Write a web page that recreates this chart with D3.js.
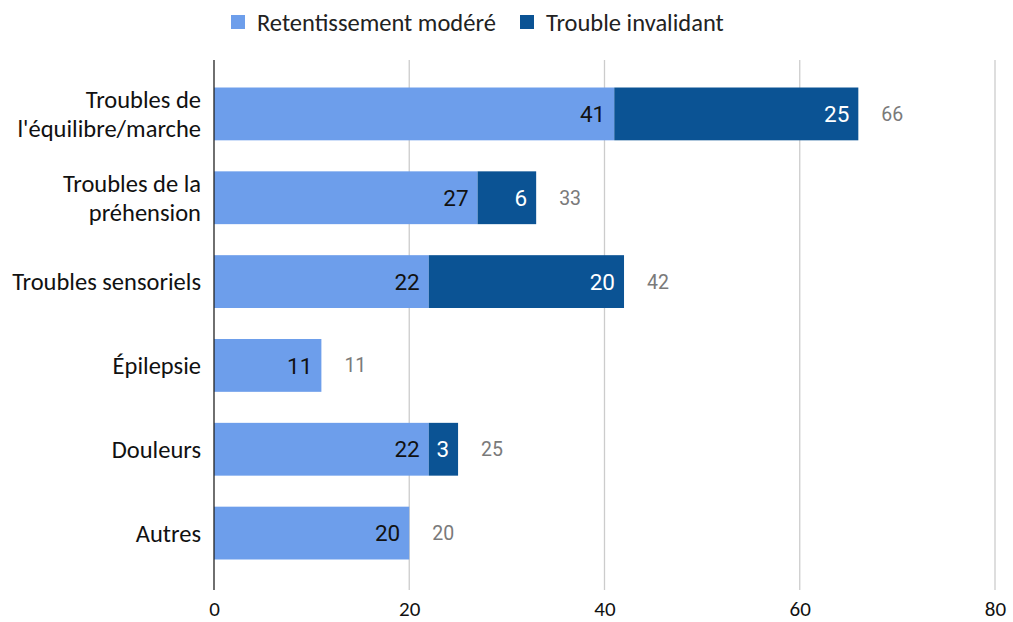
<!DOCTYPE html>
<html><head><meta charset="utf-8">
<script src="https://cdn.jsdelivr.net/npm/d3@7"></script>
<style>body{margin:0;background:#fff}</style>
</head><body>
<svg id="c" width="1013" height="622"></svg>
<script>
const categories = [["Troubles de","l'équilibre/marche"],["Troubles de la","préhension"],["Troubles sensoriels"],["Épilepsie"],["Douleurs"],["Autres"]];
const moderate = [41,27,22,11,22,20];
const invalidant = [25,6,20,0,3,0];
const seriesNames = ["Retentissement modéré","Trouble invalidant"];
const tickValues = [0,20,40,60,80];
const colors = ["#6d9eeb","#0b5394"];

const svg = d3.select("#c");
const labFont = "Carlito, Lato, 'Open Sans', sans-serif";
const x = d3.scaleLinear().domain([0,80]).range([214,995]);
const y = d3.scaleBand().domain(d3.range(categories.length)).range([72,575]).paddingInner(0.37).paddingOuter(0.185);

// grid
svg.append("g").selectAll("line").data(tickValues.slice(1)).join("line")
  .attr("x1",d=>x(d)).attr("x2",d=>x(d)).attr("y1",60).attr("y2",590)
  .attr("stroke","#cccccc").attr("stroke-width",1.3);

const data = categories.map((c,i)=>({i, a:moderate[i], b:invalidant[i]}));
const g = svg.append("g");
data.forEach(d=>{
  const yy = y(d.i), h = y.bandwidth();
  g.append("rect").attr("x",x(0)).attr("y",yy).attr("width",x(d.a)-x(0)).attr("height",h).attr("fill",colors[0]);
  if(d.b>0) g.append("rect").attr("x",x(d.a)).attr("y",yy).attr("width",x(d.a+d.b)-x(d.a)).attr("height",h).attr("fill",colors[1]);
  const cy = yy+h/2;
  g.append("text").attr("x",x(d.a)-9).attr("y",cy).attr("dy","0.36em").attr("text-anchor","end")
    .attr("font-family","Roboto, sans-serif").attr("font-size",22.5).attr("fill","#111").text(d.a);
  if(d.b>0) g.append("text").attr("x",x(d.a+d.b)-9).attr("y",cy).attr("dy","0.36em").attr("text-anchor","end")
    .attr("font-family","Roboto, sans-serif").attr("font-size",22.5).attr("fill","#fff").text(d.b);
  g.append("text").attr("x",x(d.a+d.b)+23).attr("y",cy).attr("dy","0.36em").attr("text-anchor","start")
    .attr("font-family","Roboto, sans-serif").attr("font-size",19.5).attr("fill","#7a7a7a").text(d.a+d.b);
  const lines = categories[d.i];
  const t = svg.append("text").attr("text-anchor","end").attr("font-family",labFont).attr("font-size",24.5).attr("fill","#111");
  lines.forEach((l,k)=>{
    t.append("tspan").attr("x",201).attr("y",cy+(k-(lines.length-1)/2)*29).attr("dy","0.36em").text(l);
  });
});

// axis line
svg.append("line").attr("x1",x(0)).attr("x2",x(0)).attr("y1",60).attr("y2",590).attr("stroke","#222").attr("stroke-width",1.3);

// x axis
const ax = svg.append("g").attr("transform","translate(0,590)").call(d3.axisBottom(x).tickValues(tickValues).tickSize(0).tickPadding(11));
ax.select(".domain").remove();
ax.selectAll("text").attr("font-family",labFont).attr("font-size",21).attr("fill","#111");

// legend
const leg = [{x:231,tx:257},{x:520,tx:546}];
seriesNames.forEach((n,i)=>{
  svg.append("rect").attr("x",leg[i].x).attr("y",15).attr("width",14).attr("height",14).attr("fill",colors[i]);
  svg.append("text").attr("x",leg[i].tx).attr("y",22).attr("dy","0.36em").attr("font-family",labFont).attr("font-size",24.5).attr("fill","#222").text(n);
});
</script>
</body></html>
